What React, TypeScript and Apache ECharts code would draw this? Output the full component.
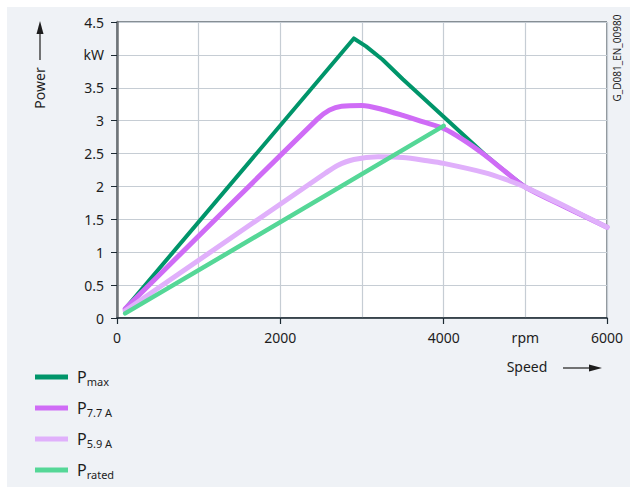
import React, { useEffect, useRef } from "react";
import * as echarts from "echarts";

const xTickLabels = ["0", "", "2000", "", "4000", "rpm", "6000"];
const yTickLabels = ["0", "0.5", "1", "1.5", "2", "2.5", "3", "3.5", "kW", "4.5"];

const seriesNames = ["Pmax", "P7.7 A", "P5.9 A", "Prated"];
const seriesColors = ["#00956a", "#cf6cf6", "#e0b0fb", "#55d797"];

const pMax: [number, number][] = [
  [100, 0.14], [2900, 4.25], [3050, 4.13], [3250, 3.93], [3500, 3.63],
  [4000, 3.06], [4500, 2.49], [4750, 2.23], [5000, 1.99], [5500, 1.68], [6000, 1.38],
];
const p77: [number, number][] = [
  [100, 0.14], [2450, 3.02], [2600, 3.16], [2750, 3.22], [3000, 3.23],
  [3250, 3.17], [3500, 3.08], [3750, 2.98], [4000, 2.88], [4250, 2.7],
  [4500, 2.48], [4750, 2.23], [5000, 1.99], [5500, 1.68], [6000, 1.38],
];
const p59: [number, number][] = [
  [100, 0.11], [2550, 2.2], [2700, 2.32], [2900, 2.41], [3200, 2.45],
  [3500, 2.44], [3800, 2.39], [4000, 2.35], [4500, 2.21], [4750, 2.11],
  [5000, 1.99], [5500, 1.69], [6000, 1.38],
];
const pRated: [number, number][] = [
  [100, 0.07], [4000, 2.92],
];
const seriesData = [pMax, p77, p59, pRated];
const seriesWidths = [4, 5, 5, 4.5];
const seriesSmooth = [false, 0.3, 0.3, false];

const FONT = "'Noto Sans', 'Open Sans', sans-serif";
const TXT = "#1d1d1d";

export default function App() {
  const ref = useRef<HTMLDivElement>(null);
  useEffect(() => {
    document.body.style.margin = "0";
    const chart = echarts.init(ref.current!, null, { renderer: "svg" });
    chart.setOption({
      animation: false,
      textStyle: { fontFamily: FONT },
      graphic: [
        {
          type: "rect",
          z: -10,
          silent: true,
          shape: { x: 7, y: 7, width: 623, height: 480 },
          style: { fill: "#eff2f6" },
        },
        {
          type: "text",
          x: 39,
          y: 88,
          rotation: Math.PI / 2,
          style: {
            text: "Power",
            font: `14px ${FONT}`,
            fill: TXT,
            align: "center",
            verticalAlign: "middle",
          },
        },
        {
          type: "line",
          shape: { x1: 40, y1: 60, x2: 40, y2: 30 },
          style: { stroke: TXT, lineWidth: 1.2 },
        },
        {
          type: "polygon",
          shape: { points: [[40, 21], [36.5, 34], [43.5, 34]] },
          style: { fill: TXT },
        },
        {
          type: "text",
          x: 527,
          y: 366,
          style: {
            text: "Speed",
            font: `14px ${FONT}`,
            fill: TXT,
            align: "center",
            verticalAlign: "middle",
          },
        },
        {
          type: "line",
          shape: { x1: 563, y1: 368, x2: 590, y2: 368 },
          style: { stroke: TXT, lineWidth: 1.2 },
        },
        {
          type: "polygon",
          shape: { points: [[602, 368], [589, 364.5], [589, 371.5]] },
          style: { fill: TXT },
        },
        {
          type: "text",
          x: 617,
          y: 58,
          rotation: Math.PI / 2,
          style: {
            text: "G_D081_EN_00980",
            font: `10px ${FONT}`,
            fill: TXT,
            align: "center",
            verticalAlign: "middle",
          },
        },
      ],
      grid: {
        left: 117,
        right: 30,
        top: 22,
        bottom: 176,
        show: true,
        backgroundColor: "#ffffff",
        borderColor: "#1c2a33",
        borderWidth: 1,
      },
      legend: {
        orient: "vertical",
        left: 30,
        top: 364,
        icon: "rect",
        itemWidth: 33,
        itemHeight: 5,
        itemGap: 13,
        data: seriesNames,
        formatter: (name: string) => `{p|P}{s|${name.slice(1)}}`,
        textStyle: {
          color: TXT,
          rich: {
            p: { fontSize: 16, fontFamily: FONT, color: TXT, padding: [0, 0, 0, 4] },
            s: { fontSize: 11, fontFamily: FONT, color: TXT, padding: [9, 0, 0, 0] },
          },
        },
      },
      xAxis: [
        {
          type: "value",
          min: 0,
          max: 6000,
          interval: 1000,
          axisLine: { show: true, lineStyle: { color: "#1c2a33", width: 1.5 } },
          axisTick: { show: false },
          axisLabel: {
            margin: 12,
            fontSize: 14,
            color: TXT,
            fontFamily: FONT,
            formatter: (v: number) => xTickLabels[Math.round(v / 1000)] ?? "",
          },
          splitLine: { show: true, lineStyle: { color: "#c6cdd4", width: 1.2 } },
        },
        {
          type: "value",
          position: "bottom",
          min: 0,
          max: 6000,
          interval: 2000,
          axisLine: { show: false },
          axisTick: { show: true, length: 6, lineStyle: { color: "#1c2a33", width: 1.2 } },
          axisLabel: { show: false },
          splitLine: { show: false },
        },
      ],
      yAxis: {
        type: "value",
        min: 0,
        max: 4.5,
        interval: 0.5,
        axisLine: { show: true, lineStyle: { color: "#6f7478", width: 2.5 } },
        axisTick: { show: true, length: 6, lineStyle: { color: "#1c2a33", width: 1 } },
        axisLabel: {
          margin: 13,
          fontSize: 14,
          color: TXT,
          fontFamily: FONT,
          formatter: (v: number) => yTickLabels[Math.round(v / 0.5)] ?? "",
        },
        splitLine: { show: true, lineStyle: { color: "#c6cdd4", width: 1.2 } },
      },
      series: seriesNames.map((name, i) => ({
        name,
        type: "line",
        xAxisIndex: 0,
        data: seriesData[i],
        symbol: "none",
        smooth: seriesSmooth[i],
        color: seriesColors[i],
        itemStyle: { color: seriesColors[i] },
        lineStyle: { color: seriesColors[i], width: seriesWidths[i], cap: "round", join: "round" },
        z: 2 + i,
      })),
    });
    return () => chart.dispose();
  }, []);
  return (
    <div style={{ position: "absolute", left: 0, top: 0, width: 637, height: 494, background: "#ffffff" }}>
      <div ref={ref} style={{ width: 637, height: 494 }} />
    </div>
  );
}
